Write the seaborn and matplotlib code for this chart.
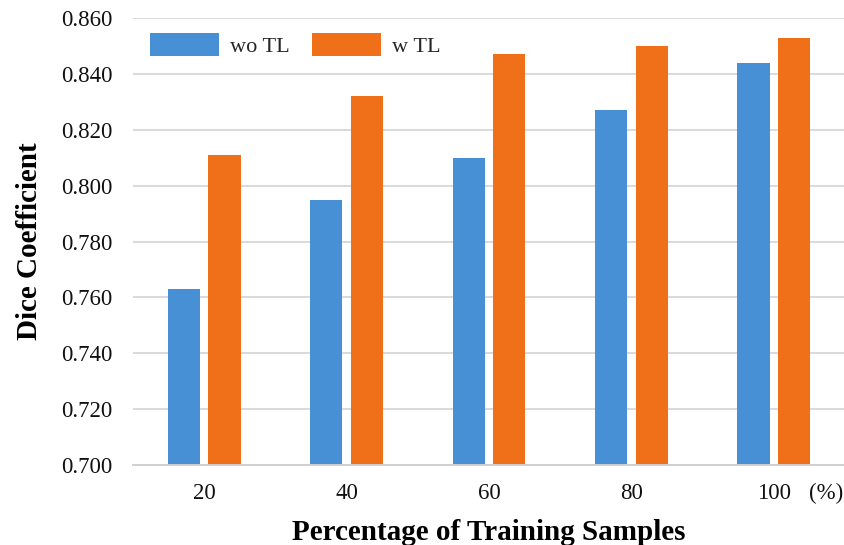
import matplotlib
matplotlib.use("Agg")
import matplotlib.pyplot as plt
import matplotlib.transforms as mtransforms
import seaborn as sns
import pandas as pd

# Dice coefficient by share of training samples, with and without transfer learning
percentages = ["20", "40", "60", "80", "100"]
dice_wo_tl = [0.763, 0.795, 0.810, 0.827, 0.844]
dice_w_tl = [0.811, 0.832, 0.847, 0.850, 0.853]
series_names = ["wo TL", "w TL"]
y_ticks = [0.700, 0.720, 0.740, 0.760, 0.780, 0.800, 0.820, 0.840, 0.860]

df = pd.DataFrame({
    "pct": percentages * 2,
    "dice": dice_wo_tl + dice_w_tl,
    "series": [series_names[0]] * len(percentages) + [series_names[1]] * len(percentages),
})

sns.set_theme(style="white")
plt.rcParams["font.family"] = ["Liberation Serif", "DejaVu Serif"]

fig = plt.figure(figsize=(8.45, 5.45), dpi=100)
ax = fig.add_axes([0.1574, 0.1468, 0.8426, 0.82])

palette = {"wo TL": "#4790D6", "w TL": "#F07019"}
sns.barplot(data=df, x="pct", y="dice", hue="series", order=percentages,
            hue_order=series_names, palette=palette, saturation=1, width=0.57,
            gap=0.21, edgecolor="none", ax=ax)

# bars start from the bottom of the visible range
ax.set_ylim(0.700, 0.860)
ax.set_xlim(-0.5, 4.5)
ax.set_yticks(y_ticks)
ax.set_yticklabels([f"{t:.3f}" for t in y_ticks], fontsize=16.5)
ax.set_xticks(range(len(percentages)))
ax.set_xticklabels(percentages, fontsize=16.5)
ax.tick_params(axis="both", length=0, colors="#111111")
ax.tick_params(axis="x", pad=13)
ax.tick_params(axis="y", pad=15)

ax.yaxis.grid(True, color="#d9d9d9", linewidth=1.4)
ax.set_axisbelow(True)
for side in ["left", "right", "top"]:
    ax.spines[side].set_visible(False)
ax.spines["bottom"].set_color("#d0d0d0")
ax.spines["bottom"].set_linewidth(1.4)

ax.set_xlabel("Percentage of Training Samples", fontsize=21, fontweight="bold",
              labelpad=11, color="black")
ax.set_ylabel("Dice Coefficient", fontsize=21, fontweight="bold", labelpad=13,
              color="black")

# unit marker next to the last category label
trans = mtransforms.blended_transform_factory(ax.transData, ax.transAxes)
ax.text(4.37, -0.040, "(%)", transform=trans, fontsize=16.5, color="#111111",
        ha="center", va="top")

ax.legend(loc="upper left", bbox_to_anchor=(-0.004, 1.012), ncol=2, frameon=False,
          fontsize=16, handlelength=3.1, handleheight=1.2, handletextpad=0.5,
          columnspacing=1.0)

fig.savefig("out.png", dpi=100)
